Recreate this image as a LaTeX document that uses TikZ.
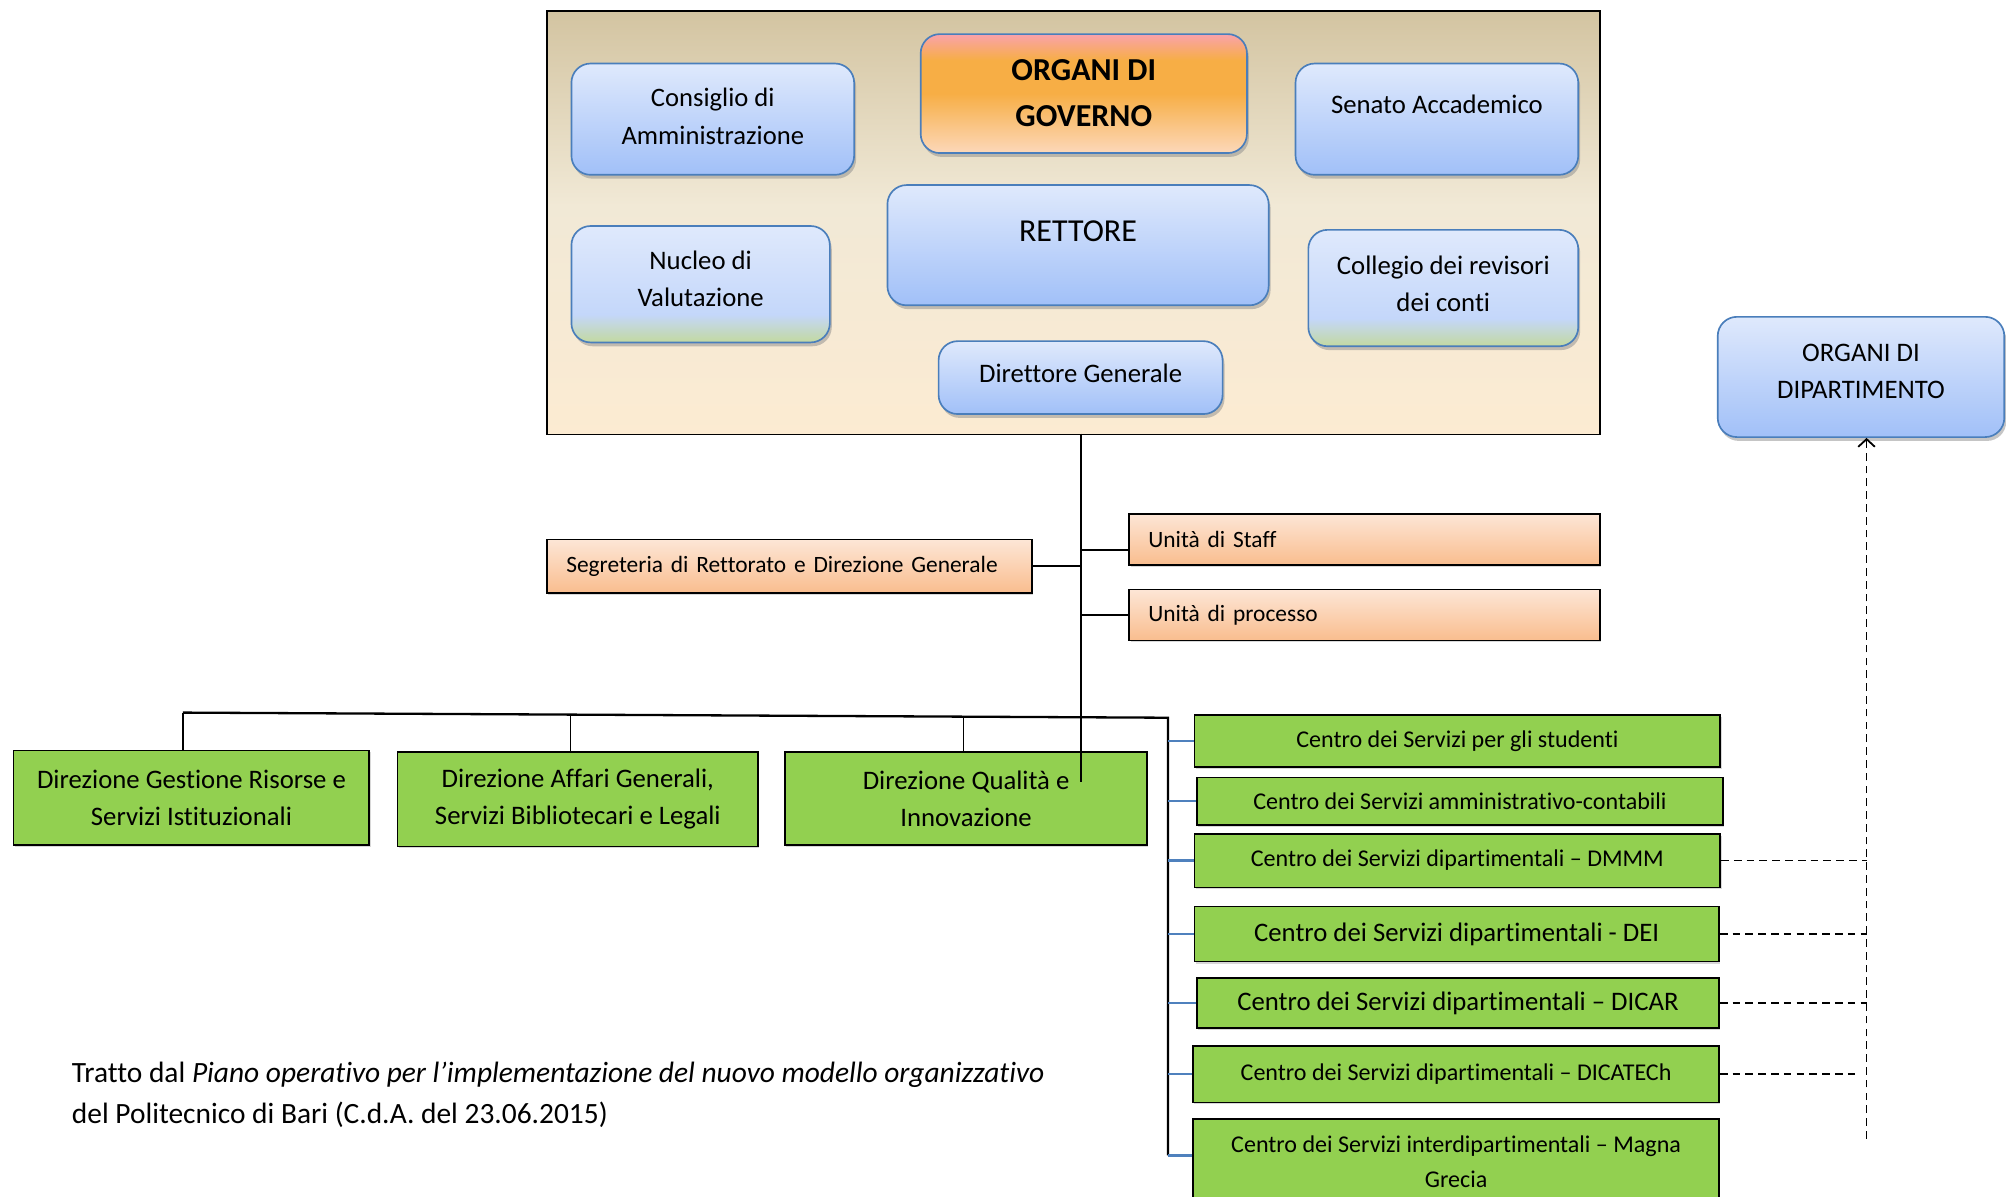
\documentclass[tikz,border=0pt]{standalone}
\usepackage{fontspec}
\setmainfont{Carlito}[Ligatures=NoCommon]
\usetikzlibrary{positioning, shadows, arrows.meta}

\definecolor{btop}{HTML}{DFE9FC}
\definecolor{bmid}{HTML}{C4D7FA}
\definecolor{bbot}{HTML}{A1C0F8}
\definecolor{bline}{HTML}{4A7EBB}
\definecolor{ngreen}{HTML}{C3D9A0}
\definecolor{opink}{HTML}{F9A2AB}
\definecolor{oorange}{HTML}{F7AE45}
\definecolor{opeach}{HTML}{FCD8BA}
\definecolor{tan}{HTML}{D3C4A1}
\definecolor{creammid}{HTML}{F1E9D6}
\definecolor{cream}{HTML}{FCEBD2}
\definecolor{ptop}{HTML}{FDE6D6}
\definecolor{pbot}{HTML}{F9BD8E}
\definecolor{vgreen}{HTML}{92D050}
\definecolor{cline}{HTML}{4F81BD}

\pgfdeclareverticalshading{framefill}{100bp}{color(0bp)=(cream); color(25bp)=(cream); color(52bp)=(creammid); color(75bp)=(tan); color(100bp)=(tan)}
\pgfdeclareverticalshading{govfill}{100bp}{color(0bp)=(opeach); color(25bp)=(opeach); color(50bp)=(oorange); color(64bp)=(oorange); color(75bp)=(opink); color(100bp)=(opink)}
\pgfdeclareverticalshading{nvfill}{100bp}{color(0bp)=(ngreen); color(25bp)=(ngreen); color(37bp)=(bmid); color(75bp)=(btop); color(100bp)=(btop)}

\tikzset{
  fsmall/.style={font=\fontsize{18.8}{27}\selectfont},
  fseg/.style={font=\fontsize{18.3}{27}\selectfont},
  fmid/.style={font=\fontsize{20.9}{29}\selectfont},
  fmidl/.style={font=\fontsize{20.8}{30}\selectfont},
  fcap/.style={font=\fontsize{23}{32}\selectfont},
  fbig/.style={font=\fontsize{25}{36}\selectfont},
  fbigb/.style={font=\fontsize{25}{36}\selectfont\bfseries},
  frame/.style={draw=black, line width=1.2pt, shading=framefill, anchor=north west},
  organo/.style={draw=bline, line width=1.3pt, rounded corners=15pt, top color=btop, bottom color=bbot,
    drop shadow={shadow xshift=1.5pt, shadow yshift=-3pt, fill=black!45}, align=center, anchor=north west, inner sep=2pt},
  organo verde/.style={organo, shading=nvfill},
  testo/.style={align=center, inner sep=0pt},
  unita/.style={draw=black, line width=1.3pt, top color=ptop, bottom color=pbot, fseg, align=left,
    inner xsep=15pt, anchor=north west, drop shadow={shadow xshift=1pt, shadow yshift=-1.5pt, fill=black!30}},
  direz/.style={draw=black, line width=1.3pt, fill=vgreen, align=center, anchor=north west,
    drop shadow={shadow xshift=1pt, shadow yshift=-1.5pt, fill=black!30}},
  trunk/.style={line width=1.8pt},
  drop/.style={line width=1pt},
  link/.style={draw=cline, line width=1.8pt},
  dep/.style={line width=1.4pt, dash pattern=on 6pt off 4pt}
}

\begin{document}
\begin{tikzpicture}[x=1pt, y=-1pt]
\useasboundingbox (0,0) rectangle (1568,935);
\node[frame, minimum width=823pt, minimum height=331pt] (gov) at (427,8) {};
\node[organo, minimum width=221pt, minimum height=87pt] (cda) at (446,49) {};
\node[testo, fmidl] (cdat) at ([yshift=2pt]cda.center) {Consiglio di\\Amministrazione};
\node[organo, shading=govfill, fbigb, minimum width=255pt, minimum height=93pt] (org) at (719,26) {ORGANI DI\\GOVERNO};
\node[organo, minimum width=221pt, minimum height=87pt] (sen) at (1012,49) {};
\node[testo, fmid] (sent) at ([yshift=11.5pt]sen.center) {Senato Accademico};
\node[organo, minimum width=298pt, minimum height=94pt] (ret) at (693,144) {};
\node[testo, fbig] (rett) at ([yshift=11pt]ret.center) {RETTORE};
\node[organo verde, minimum width=202pt, minimum height=91pt] (nuc) at (446,176) {};
\node[testo, fmid] (nuct) at ([yshift=4pt]nuc.center) {Nucleo di\\Valutazione};
\node[organo verde, minimum width=211pt, minimum height=91pt] (col) at (1022,179) {};
\node[testo, fmid] (colt) at ([yshift=3pt]col.center) {Collegio dei revisori\\dei conti};
\node[organo, minimum width=222pt, minimum height=57pt] (dg) at (733,266) {};
\node[testo, fmid] (dgt) at ([yshift=3pt]dg.center) {Direttore Generale};
\node[organo, minimum width=224pt, minimum height=94pt] (odip) at (1342,247) {};
\node[testo, fmid] (odipt) at ([yshift=4pt]odip.center) {ORGANI DI\\DIPARTIMENTO};

\node[unita, text width=349pt, minimum height=42pt] (seg) at (427,421) {Segreteria di Rettorato e Direzione Generale};
\node[unita, text width=338pt, minimum height=40pt] (staff) at (882,401) {Unità di Staff};
\node[unita, text width=338pt, minimum height=40pt] (proc) at (882,460) {Unità di processo};

\node[direz, fmid, minimum width=278pt, minimum height=74pt] (dgr) at (10,586) {Direzione Gestione Risorse e\\Servizi Istituzionali};
\node[direz, fmid, minimum width=282pt, minimum height=74pt] (dag) at (310,587) {Direzione Affari Generali,\\Servizi Bibliotecari e Legali};
\node[direz, fmid, minimum width=283pt, minimum height=73pt] (dqi) at (613,587) {Direzione Qualità e\\Innovazione};

\node[direz, fsmall, minimum width=411pt, minimum height=41pt] (cstud) at (933,558) {Centro dei Servizi per gli studenti};
\node[direz, fsmall, minimum width=411pt, minimum height=37pt] (camm) at (935,607) {Centro dei Servizi amministrativo-contabili};
\node[direz, fsmall, minimum width=411pt, minimum height=42pt] (cdmmm) at (933,651) {Centro dei Servizi dipartimentali – DMMM};
\node[direz, fmid, minimum width=410pt, minimum height=43pt] (cdei) at (933,708) {Centro dei Servizi dipartimentali - DEI};
\node[direz, fmid, minimum width=408pt, minimum height=39pt] (cdicar) at (935,764) {Centro dei Servizi dipartimentali – DICAR};
\node[direz, fsmall, minimum width=411pt, minimum height=44pt] (cdicatech) at (932,817) {Centro dei Servizi dipartimentali – DICATECh};
\node[direz, fsmall, minimum width=411pt, minimum height=67pt] (cmagna) at (932,874) {Centro dei Servizi interdipartimentali – Magna\\Grecia};

\node[fcap, align=left, anchor=west, inner sep=0pt] (fonte) at (56,856) {Tratto dal \textit{Piano operativo per l’implementazione del nuovo modello organizzativo}\\del Politecnico di Bari (C.d.A. del 23.06.2015)};

\coordinate (t0) at (845,339);
\coordinate (t1) at (845,611);
\coordinate (bl) at (143,557);
\coordinate (br) at (913,561);
\coordinate (bb) at (913,903);
\coordinate (b2) at (446,558);
\coordinate (b3) at (753,560);
\coordinate (sj) at ([yshift=-8pt]staff.west);
\coordinate (mj) at ([yshift=5pt]cmagna.west);
\coordinate (dv) at (1459,890);
\coordinate (dw) at (1450,839);

\draw[trunk] (t0) -- (t1);
\draw[trunk] (seg.east) -- (seg.east -| t0);
\draw[trunk] (sj) -- (sj -| t0);
\draw[trunk] (proc.west) -- (proc.west -| t0);
\draw[trunk] (bl) -- (br) -- (bb);
\draw[drop] (bl) -- (bl |- dgr.north);
\draw[drop] (b2) -- (b2 |- dag.north);
\draw[drop] (b3) -- (b3 |- dqi.north);
\foreach \c in {cstud,camm,cdmmm,cdei,cdicar,cdicatech}
  \draw[link] (\c.west -| bb) -- (\c.west);
\draw[link] (mj -| bb) -- (mj);

\foreach \c in {cdmmm,cdei,cdicar}
  \draw[dep] (\c.east) -- (\c.east -| dv);
\draw[dep] (cdicatech.east) -- (cdicatech.east -| dw);
\draw[dep, -{Straight Barb[length=6pt, width=13pt]}] (dv) -- (dv |- odip.south);
\end{tikzpicture}
\end{document}
